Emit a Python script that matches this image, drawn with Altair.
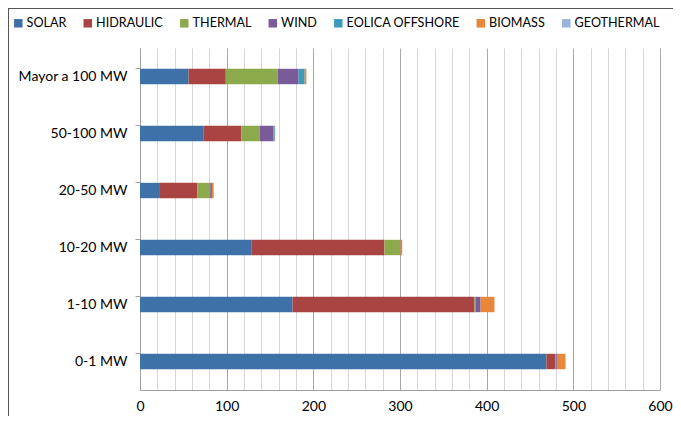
import altair as alt
import pandas as pd

categories = ["Mayor a 100 MW", "50-100 MW", "20-50 MW", "10-20 MW", "1-10 MW", "0-1 MW"]
sources = ["SOLAR", "HIDRAULIC", "THERMAL", "WIND", "EOLICA OFFSHORE", "BIOMASS", "GEOTHERMAL"]
colors = ["#3F71A9", "#A94442", "#8CAA4B", "#7A5B9A", "#3A9CB8", "#E8873A", "#98B4DA"]

solar      = [56, 73, 23, 129, 176, 469]
hidraulic  = [43, 44, 43, 153, 210, 10]
thermal    = [60, 21, 15, 18, 1, 1]
wind       = [24, 16, 2, 0.5, 6, 1]
offshore   = [7, 1.5, 0, 0, 0, 1]
biomass    = [2, 0.5, 2, 2, 16, 9]
geothermal = [0, 0, 0, 0, 0, 0]

series = [solar, hidraulic, thermal, wind, offshore, biomass, geothermal]
rows = []
for si, (name, vals) in enumerate(zip(sources, series)):
    for cat, v in zip(categories, vals):
        rows.append({"cat": cat, "source": name, "value": v, "order": si})
df = pd.DataFrame(rows)

FONT = "Lato"

bars = alt.Chart(df).mark_bar().encode(
    y=alt.Y("cat:N", sort=categories, title=None,
            scale=alt.Scale(paddingInner=0.73, paddingOuter=0.365),
            axis=alt.Axis(bandPosition=0, ticks=True, tickSize=5,
                          tickColor="#a0a0a0", domainColor="#a0a0a0", labelBound=False,
                          labelFont=FONT, labelFontSize=14, labelColor="#000000",
                          labelPadding=8, grid=False)),
    x=alt.X("value:Q", title=None, stack="zero",
            scale=alt.Scale(domain=[0, 600], nice=False),
            axis=alt.Axis(values=list(range(0, 601, 20)),
                          labelExpr="datum.value % 100 === 0 ? datum.label : ''",
                          ticks=False, grid=True,
                          gridColor=alt.condition("datum.value % 100 === 0", alt.value("#a8a8a8"), alt.value("#d6d6d6")),
                          domainColor="#a0a0a0", labelFont=FONT, labelFontSize=14,
                          labelColor="#000000", labelPadding=9, labelFlush=False)),
    color=alt.Color("source:N", sort=sources,
                    scale=alt.Scale(domain=sources, range=colors),
                    legend=alt.Legend(title=None, orient="none", direction="horizontal",
                                      legendX=-128, legendY=-31, symbolType="square",
                                      symbolSize=72, symbolStrokeWidth=0, labelFont=FONT,
                                      labelFontSize=12.6, labelColor="#000000",
                                      columnPadding=14.5, labelOffset=2, columns=7,
                                      gridAlign="none")),
    order=alt.Order("order:Q"),
)

frame_top = alt.Chart(df).mark_rule(color="#555555", strokeWidth=1).encode(
    x=alt.value(-131.5), x2=alt.value(620), y=alt.value(-39.5))
frame_left = alt.Chart(df).mark_rule(color="#555555", strokeWidth=1).encode(
    x=alt.value(-131.5), y=alt.value(-39.5), y2=alt.value(400))

chart = alt.layer(frame_top, frame_left, bars).properties(
    width=520, height=342,
    autosize=alt.AutoSizeParams(type="none"),
    padding={"left": 132, "top": 40, "right": 13, "bottom": 26},
).configure_view(stroke=None)

chart.save("out.html", embed_options={"renderer": "svg", "actions": False})
